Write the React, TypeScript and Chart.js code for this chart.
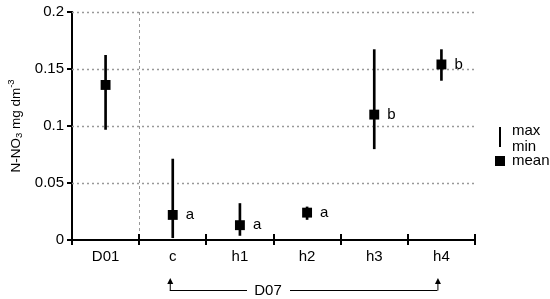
import React, { useEffect, useRef } from "react";
import { Chart, registerables } from "chart.js";

Chart.register(...registerables);

const categories = ["D01", "c", "h1", "h2", "h3", "h4"];
const meanValues = [0.136, 0.022, 0.013, 0.024, 0.11, 0.154];
const minValues = [0.097, 0.002, 0.004, 0.018, 0.08, 0.14];
const maxValues = [0.162, 0.071, 0.032, 0.029, 0.167, 0.167];
const groupLetters = ["", "a", "a", "a", "b", "b"];
const yTickLabels = ["0", "0.05", "0.1", "0.15", "0.2"];
const groupLabel = "D07";
const FONT = "'Liberation Sans', Arial, sans-serif";

const extrasPlugin = {
  id: "extras",
  beforeDatasetsDraw(chart: any) {
    const { ctx, chartArea, scales } = chart;
    const x = scales.x;
    const y = scales.y;
    ctx.save();
    ctx.strokeStyle = "#999";
    ctx.lineWidth = 1.5;
    ctx.setLineDash([2, 3]);
    y.ticks.forEach((t: any) => {
      if (t.value === 0) return;
      const py = Math.round(y.getPixelForValue(t.value)) + 0.5;
      ctx.beginPath();
      ctx.moveTo(chartArea.left, py);
      ctx.lineTo(chartArea.right, py);
      ctx.stroke();
    });
    const sx = Math.round((x.getPixelForValue(0) + x.getPixelForValue(1)) / 2) + 0.5;
    ctx.setLineDash([3, 3]);
    ctx.lineWidth = 1;
    ctx.beginPath();
    ctx.moveTo(sx, chartArea.top);
    ctx.lineTo(sx, chartArea.bottom);
    ctx.stroke();
    ctx.restore();
  },
  afterDatasetsDraw(chart: any) {
    const { ctx, chartArea, scales } = chart;
    const x = scales.x;
    const y = scales.y;
    ctx.save();
    const step = (chartArea.right - chartArea.left) / categories.length;
    ctx.strokeStyle = "#000";
    ctx.lineWidth = 2;
    for (let i = 0; i <= categories.length; i++) {
      const px = Math.round(chartArea.left + i * step);
      ctx.beginPath();
      ctx.moveTo(px, chartArea.bottom - 6);
      ctx.lineTo(px, chartArea.bottom + 5);
      ctx.stroke();
    }
    ctx.fillStyle = "#000";
    ctx.font = `15px ${FONT}`;
    ctx.textAlign = "left";
    ctx.textBaseline = "middle";
    groupLetters.forEach((l, i) => {
      if (!l) return;
      ctx.fillText(l, x.getPixelForValue(i) + 13, y.getPixelForValue(meanValues[i]));
    });
    const xl = x.getPixelForValue(1) - 3;
    const xr = x.getPixelForValue(5) - 4;
    const by = 290.5;
    const ty = 278;
    ctx.lineWidth = 1;
    ctx.beginPath();
    ctx.moveTo(xl + 0.5, by);
    ctx.lineTo(xl + 0.5, ty + 4);
    ctx.moveTo(xl, by);
    ctx.lineTo(247, by);
    ctx.moveTo(290, by);
    ctx.lineTo(xr, by);
    ctx.moveTo(xr + 0.5, by);
    ctx.lineTo(xr + 0.5, ty + 4);
    ctx.stroke();
    [xl + 0.5, xr + 0.5].forEach((ax) => {
      ctx.beginPath();
      ctx.moveTo(ax, ty);
      ctx.lineTo(ax - 3, ty + 6);
      ctx.lineTo(ax + 3, ty + 6);
      ctx.closePath();
      ctx.fill();
    });
    ctx.font = `15px ${FONT}`;
    ctx.textAlign = "center";
    ctx.fillText(groupLabel, 268, by);
    ctx.lineWidth = 2;
    ctx.beginPath();
    ctx.moveTo(500, 127);
    ctx.lineTo(500, 147);
    ctx.stroke();
    ctx.fillRect(495, 156, 10, 10);
    ctx.textAlign = "left";
    ctx.font = `15px ${FONT}`;
    ctx.fillText("max", 512, 131);
    ctx.fillText("min", 512, 147);
    ctx.fillText("mean", 512, 161);
    ctx.translate(20, 126);
    ctx.rotate(-Math.PI / 2);
    const parts: [string, number, number][] = [
      ["N-NO", 13.5, 0],
      ["3", 9.5, 2],
      [" mg dm", 13.5, 0],
      ["-3", 9.5, -6],
    ];
    let total = 0;
    parts.forEach(([t, s]) => {
      ctx.font = `${s}px ${FONT}`;
      total += ctx.measureText(t).width;
    });
    let cx = -total / 2;
    ctx.textBaseline = "alphabetic";
    parts.forEach(([t, s, dy]) => {
      ctx.font = `${s}px ${FONT}`;
      ctx.fillText(t, cx, 0 + dy);
      cx += ctx.measureText(t).width;
    });
    ctx.restore();
  },
};

export default function App() {
  const ref = useRef<HTMLCanvasElement>(null);
  useEffect(() => {
    if (!ref.current) return;
    const chart = new Chart(ref.current, {
      type: "bar",
      data: {
        labels: categories,
        datasets: [
          {
            type: "line",
            data: meanValues,
            showLine: false,
            pointStyle: "rect",
            pointRadius: 7,
            pointBackgroundColor: "#000",
            pointBorderWidth: 0,
            order: 1,
          } as any,
          {
            type: "bar",
            data: minValues.map((m, i) => [m, maxValues[i]]),
            backgroundColor: "#000",
            barThickness: 2,
            order: 2,
          },
        ],
      },
      options: {
        animation: false,
        responsive: false,
        events: [],
        layout: { padding: { left: 0, top: 12, right: 75, bottom: 0 } },
        plugins: { legend: { display: false }, tooltip: { enabled: false } },
        scales: {
          x: {
            offset: true,
            grid: { display: false },
            border: { display: true, color: "#000", width: 2 },
            ticks: { color: "#000", font: { family: FONT, size: 15 }, padding: 0 },
            afterFit: (s: any) => {
              s.height = 59;
            },
          },
          y: {
            min: 0,
            max: 0.2,
            grid: {
              display: true,
              drawOnChartArea: false,
              drawTicks: true,
              tickLength: 5,
              tickColor: "#000",
              lineWidth: 2,
            },
            border: { display: true, color: "#000", width: 2 },
            ticks: {
              stepSize: 0.05,
              color: "#000",
              padding: 3,
              font: { family: FONT, size: 15 },
              callback: (_v: any, i: number) => yTickLabels[i],
            },
            afterFit: (s: any) => {
              s.width = 72;
            },
          },
        },
      },
      plugins: [extrasPlugin],
    });
    return () => chart.destroy();
  }, []);
  return (
    <div style={{ position: "absolute", left: 0, top: 0, width: 550, height: 299, background: "#fff" }}>
      <canvas ref={ref} width={550} height={299} />
    </div>
  );
}
